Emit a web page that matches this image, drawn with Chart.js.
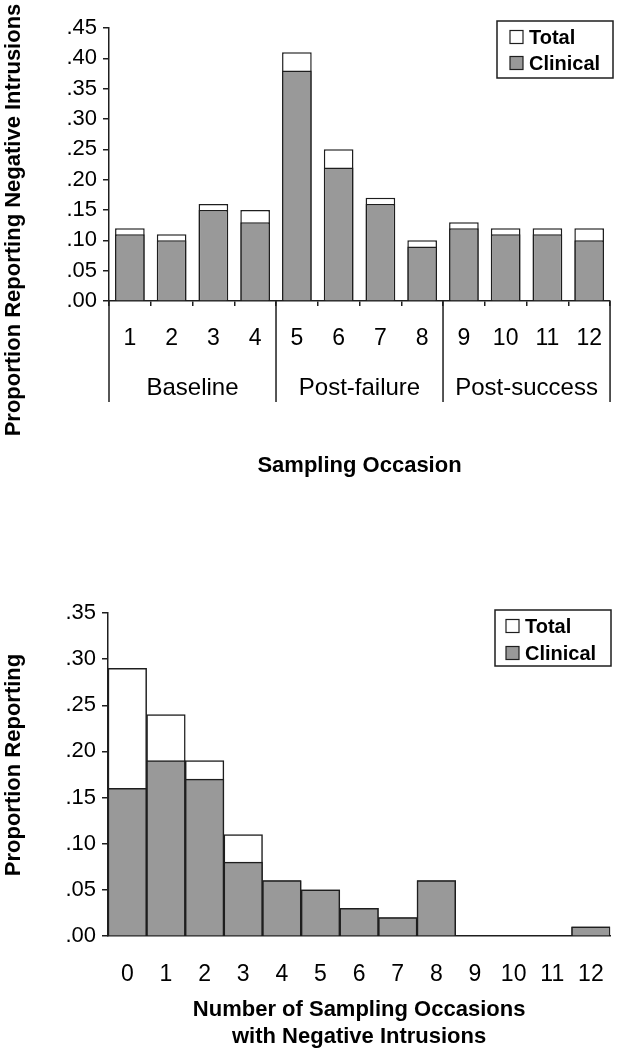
<!DOCTYPE html>
<html><head><meta charset="utf-8">
<script src="https://cdn.jsdelivr.net/npm/chart.js@4.4.1/dist/chart.umd.min.js"></script>
<style>
html,body{margin:0;padding:0;background:#fff;width:621px;height:1050px;overflow:hidden;}
.wrap{position:absolute;left:0;width:621px;}
#w1{top:0;height:500px;}
#w2{top:500px;height:550px;}
</style></head><body>
<div class="wrap" id="w1"><canvas id="c1"></canvas></div>
<div class="wrap" id="w2"><canvas id="c2"></canvas></div>
<script>
// ---- data ----
const occasionLabels = ['1','2','3','4','5','6','7','8','9','10','11','12'];
const phaseLabels = ['Baseline','Post-failure','Post-success'];
const occasionTotal = [0.12,0.11,0.16,0.15,0.41,0.25,0.17,0.10,0.13,0.12,0.12,0.12];
const occasionClinical = [0.11,0.10,0.15,0.13,0.38,0.22,0.16,0.09,0.12,0.11,0.11,0.10];

const countLabels = ['0','1','2','3','4','5','6','7','8','9','10','11','12'];
const countTotal = [0.29,0.24,0.19,0.11,0.06,0.05,0.03,0.02,0.06,0,0,0,0.01];
const countClinical = [0.16,0.19,0.17,0.08,0.06,0.05,0.03,0.02,0.06,0,0,0,0.01];

const seriesNames = ['Total','Clinical'];

// ---- styling ----
const FONT = '"Liberation Sans", Arial, sans-serif';
const INK = '#1e1e1e';
const GRAY = '#999999';
const fmt = v => Number(v).toFixed(2).replace(/^0/, '');

const decor = {
  id: 'decor',
  afterDraw(chart, args, o) {
    const ctx = chart.ctx, ca = chart.chartArea;
    // y-axis title
    ctx.save();
    ctx.translate(o.yTitleX, o.yTitleY);
    ctx.rotate(-Math.PI / 2);
    ctx.font = 'bold 22px ' + FONT;
    ctx.fillStyle = '#000';
    ctx.textAlign = 'center';
    ctx.textBaseline = 'middle';
    ctx.fillText(o.yTitle, 0, 0);
    ctx.restore();
    // group separators
    if (o.groups) {
      const xs = chart.scales.x;
      const n = xs.getLabels().length;
      ctx.save();
      ctx.strokeStyle = INK;
      ctx.lineWidth = 1.5;
      for (let k = 0; k <= n; k += o.groups) {
        let px;
        if (k === 0) px = ca.left;
        else if (k === n) px = ca.right;
        else px = (xs.getPixelForValue(k - 1) + xs.getPixelForValue(k)) / 2;
        ctx.beginPath();
        ctx.moveTo(px, ca.bottom);
        ctx.lineTo(px, ca.bottom + o.sepLength);
        ctx.stroke();
      }
      ctx.restore();
    }
    // legend box
    const L = o.legend;
    ctx.save();
    ctx.fillStyle = '#fff';
    ctx.fillRect(L.x, L.y, L.w, L.h);
    ctx.strokeStyle = INK;
    ctx.lineWidth = 1.5;
    ctx.strokeRect(L.x, L.y, L.w, L.h);
    ctx.font = 'bold 20px ' + FONT;
    ctx.textBaseline = 'middle';
    ctx.textAlign = 'left';
    chart.data.datasets.forEach((ds, i) => {
      const cy = L.rows[i];
      ctx.fillStyle = ds.backgroundColor;
      ctx.fillRect(L.bx, cy - 6.5, 13, 13);
      ctx.strokeStyle = INK;
      ctx.lineWidth = 1.2;
      ctx.strokeRect(L.bx, cy - 6.5, 13, 13);
      ctx.fillStyle = '#000';
      ctx.fillText(ds.label, L.tx, cy + 1);
    });
    ctx.restore();
  }
};

function yAxis(max, width) {
  return {
    min: 0, max: max,
    ticks: { stepSize: 0.05, callback: v => fmt(v), font: { family: FONT, size: 22 }, color: '#000', padding: 6 },
    grid: { drawOnChartArea: false, drawTicks: true, tickLength: 6, color: INK, lineWidth: 1.5 },
    border: { display: true, color: INK, width: 1.5 },
    afterFit(s) { s.width = width; }
  };
}

function bars(total, clinical, pct) {
  return [
    { label: seriesNames[0], data: total, backgroundColor: '#ffffff', borderColor: INK, borderWidth: 1.5,
      grouped: false, order: 2, barPercentage: pct, categoryPercentage: 1.0, xAxisID: 'x', yAxisID: 'y' },
    { label: seriesNames[1], data: clinical, backgroundColor: GRAY, borderColor: INK, borderWidth: 1.5,
      grouped: false, order: 1, barPercentage: pct, categoryPercentage: 1.0, xAxisID: 'x', yAxisID: 'y' }
  ];
}

Chart.defaults.font.family = FONT;
Chart.defaults.color = '#000';

new Chart(document.getElementById('c1'), {
  type: 'bar',
  data: { labels: occasionLabels, datasets: bars(occasionTotal, occasionClinical, 0.71) },
  options: {
    responsive: true, maintainAspectRatio: false, animation: false,
    layout: { padding: { top: 28, right: 1, left: 0, bottom: 0 } },
    plugins: {
      legend: { display: false }, tooltip: { enabled: false },
      decor: {
        yTitle: 'Proportion Reporting Negative Intrusions', yTitleX: 14, yTitleY: 220,
        groups: 4, sepLength: 101,
        legend: { x: 497, y: 21, w: 116, h: 57, bx: 510, tx: 529, rows: [37, 63] }
      }
    },
    scales: {
      x: {
        type: 'category', offset: true, weight: 0,
        grid: { drawOnChartArea: false, offset: true, tickLength: 5, color: INK, lineWidth: 1.5 },
        border: { display: true, color: INK, width: 1.5 },
        ticks: { font: { family: FONT, size: 23 }, color: '#000', padding: 19, maxRotation: 0, autoSkip: false },
        afterFit(s) { s.height = 64; }
      },
      x2: {
        type: 'category', labels: phaseLabels, position: 'bottom', offset: true, weight: 1,
        grid: { display: false }, border: { display: false },
        ticks: { font: { family: FONT, size: 24 }, color: '#000', padding: 1, maxRotation: 0, autoSkip: false },
        title: { display: true, text: 'Sampling Occasion', font: { family: FONT, size: 22, weight: 'bold' }, color: '#000', padding: { top: 0, bottom: 21 } },
        afterFit(s) { s.height = 135; }
      },
      y: yAxis(0.45, 109)
    }
  },
  plugins: [decor]
});

new Chart(document.getElementById('c2'), {
  type: 'bar',
  data: { labels: countLabels, datasets: bars(countTotal, countClinical, 1.0) },
  options: {
    responsive: true, maintainAspectRatio: false, animation: false,
    layout: { padding: { top: 113, right: 8, left: 0, bottom: 0 } },
    plugins: {
      legend: { display: false }, tooltip: { enabled: false },
      decor: {
        yTitle: 'Proportion Reporting', yTitleX: 14, yTitleY: 265,
        groups: 0,
        legend: { x: 495, y: 110, w: 116, h: 56, bx: 506, tx: 525, rows: [126, 153] }
      }
    },
    scales: {
      x: {
        type: 'category', offset: true,
        grid: { display: false },
        border: { display: true, color: INK, width: 1.5 },
        ticks: { font: { family: FONT, size: 23 }, color: '#000', padding: 17, maxRotation: 0, autoSkip: false },
        title: { display: true, text: ['Number of Sampling Occasions', 'with Negative Intrusions'], font: { family: FONT, size: 22, weight: 'bold', lineHeight: 1.22 }, color: '#000', padding: { top: 0, bottom: 0 } },
        afterFit(s) { s.height = 114; }
      },
      y: yAxis(0.35, 108)
    }
  },
  plugins: [decor]
});
</script>
</body></html>
